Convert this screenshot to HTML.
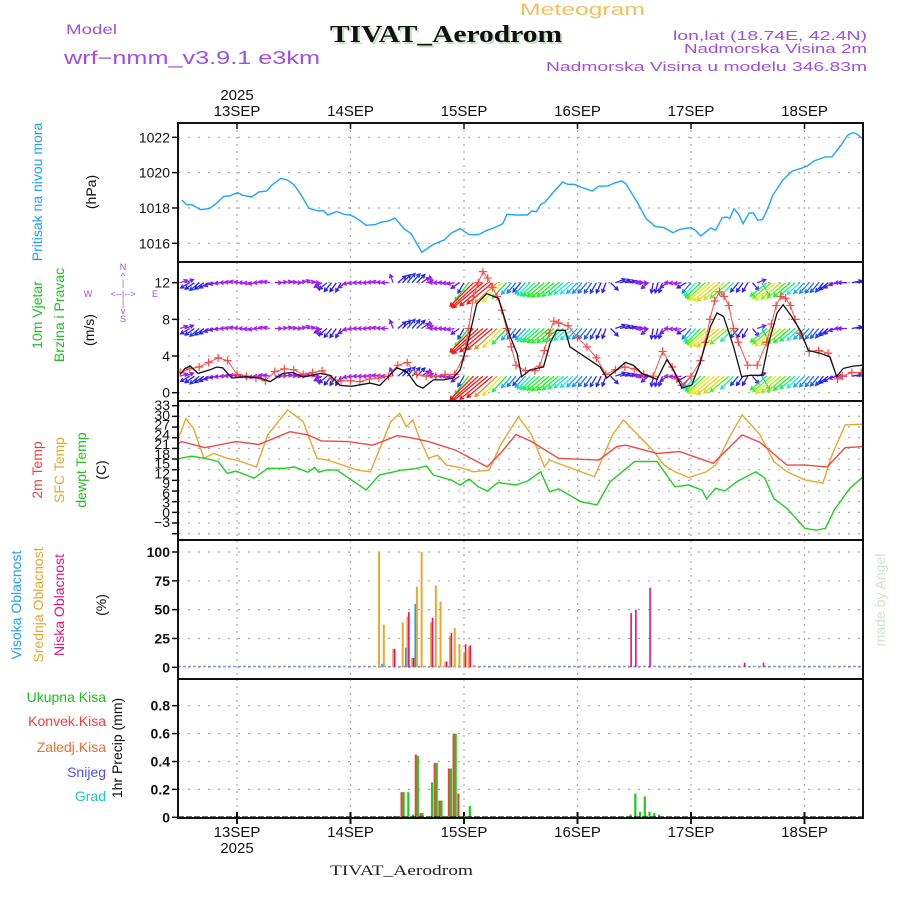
<!DOCTYPE html>
<html><head><meta charset="utf-8">
<style>
html,body{margin:0;padding:0;background:#fff;}
svg{display:block;font-family:"Liberation Sans",sans-serif;}
</style></head>
<body>
<svg id="chart" width="900" height="900" viewBox="0 0 900 900" xmlns="http://www.w3.org/2000/svg">
<defs>
<clipPath id="clipWind"><rect x="178" y="262" width="685" height="139"/></clipPath>
<clipPath id="clipAll"><rect x="178" y="123" width="685" height="695"/></clipPath>
</defs>
<text x="520" y="15" font-size="17" fill="#f0c060" textLength="125" lengthAdjust="spacingAndGlyphs">Meteogram</text>
<text x="66" y="34" font-size="14" fill="#a050e0" textLength="51" lengthAdjust="spacingAndGlyphs">Model</text>
<text x="64" y="64" font-size="18" fill="#a050e0" textLength="256" lengthAdjust="spacingAndGlyphs">wrf−nmm_v3.9.1  e3km</text>
<text x="332" y="44" font-size="24" font-weight="bold" fill="#c8dcc8" font-family="Liberation Serif, serif" textLength="232" lengthAdjust="spacingAndGlyphs">TIVAT_Aerodrom</text>
<text x="330" y="42" font-size="24" font-weight="bold" fill="#111" font-family="Liberation Serif, serif" textLength="232" lengthAdjust="spacingAndGlyphs">TIVAT_Aerodrom</text>
<text x="673" y="40" font-size="13" fill="#a050e0" textLength="194" lengthAdjust="spacingAndGlyphs">lon,lat (18.74E, 42.4N)</text>
<text x="684" y="53" font-size="13" fill="#a050e0" textLength="183" lengthAdjust="spacingAndGlyphs">Nadmorska Visina 2m</text>
<text x="546" y="71" font-size="13" fill="#a050e0" textLength="321" lengthAdjust="spacingAndGlyphs">Nadmorska Visina u modelu 346.83m</text>
<text x="237" y="100" font-size="15" fill="#111" text-anchor="middle">2025</text>
<text x="237" y="853" font-size="15" fill="#111" text-anchor="middle">2025</text>
<text x="330" y="875" font-size="15" fill="#222" font-family="Liberation Serif, serif" textLength="143" lengthAdjust="spacingAndGlyphs">TIVAT_Aerodrom</text>
<text transform="translate(885,600) rotate(-90)" font-size="14" fill="#d0e2d0" text-anchor="middle">made by Angel</text>

<!-- left labels -->
<text transform="translate(42,192) rotate(-90)" font-size="14" fill="#1ea0ff" text-anchor="middle">Pritisak na nivou mora</text>
<text transform="translate(96,192) rotate(-90)" font-size="14" fill="#111" text-anchor="middle">(hPa)</text>
<text transform="translate(42,315) rotate(-90)" font-size="14" fill="#20c020" text-anchor="middle">10m Vjetar</text>
<text transform="translate(64,315) rotate(-90)" font-size="14" fill="#20c020" text-anchor="middle">Brzina i Pravac</text>
<text transform="translate(94,330) rotate(-90)" font-size="14" fill="#111" text-anchor="middle">(m/s)</text>
<g font-size="9" fill="#a050e0" text-anchor="middle">
<text x="123" y="270">N</text><text x="123" y="279">^</text><text x="123" y="286">|</text>
<text x="88" y="297">W</text><text x="123" y="297">&lt;--|--&gt;</text><text x="155" y="297">E</text>
<text x="123" y="306">|</text><text x="123" y="314">v</text><text x="123" y="322">S</text>
</g>
<text transform="translate(42,470) rotate(-90)" font-size="14" fill="#f04040" text-anchor="middle">2m Temp</text>
<text transform="translate(64,470) rotate(-90)" font-size="14" fill="#e8a830" text-anchor="middle">SFC Temp</text>
<text transform="translate(86,470) rotate(-90)" font-size="14" fill="#20c020" text-anchor="middle">dewpt Temp</text>
<text transform="translate(106,470) rotate(-90)" font-size="14" fill="#111" text-anchor="middle">(C)</text>
<text transform="translate(21,605) rotate(-90)" font-size="14" fill="#1ea0ff" text-anchor="middle">Visoka Oblacnost</text>
<text transform="translate(43,605) rotate(-90)" font-size="14" fill="#e8a830" text-anchor="middle">Srednja Oblacnost</text>
<text transform="translate(64,605) rotate(-90)" font-size="14" fill="#e8107a" text-anchor="middle">Niska Oblacnost</text>
<text transform="translate(106,605) rotate(-90)" font-size="14" fill="#111" text-anchor="middle">(%)</text>
<text x="106" y="702" font-size="14" fill="#20c020" text-anchor="end">Ukupna  Kisa</text>
<text x="106" y="726" font-size="14" fill="#f04040" text-anchor="end">Konvek.Kisa</text>
<text x="106" y="752" font-size="14" fill="#f07030" text-anchor="end">Zaledj.Kisa</text>
<text x="106" y="777" font-size="14" fill="#5050f0" text-anchor="end">Snijeg</text>
<text x="106" y="801" font-size="14" fill="#20c8c8" text-anchor="end">Grad</text>
<text transform="translate(122,748) rotate(-90)" font-size="14" fill="#111" text-anchor="middle">1hr Precip (mm)</text>
<g id="plot"></g>
</svg>
<script>
// ---- data (hours from 13SEP 00UTC) ----
const dayLabels = ["13SEP","14SEP","15SEP","16SEP","17SEP","18SEP"];
const dayHours = [0,24,48,72,96,120];

const presHours = [-11.7,-10.6,-9.6,-7.7,-5.9,-4.4,-2.8,-1.6,0.1,1.2,3.1,4.6,6.3,7.4,9.3,10.7,12.1,13.6,15.2,17.3,18.3,19.2,21.1,22.6,24,25.4,27.3,29.2,30.6,32,33.4,35.3,36.8,39.1,41.5,43.9,45.3,47.2,49.1,51,52.9,54.3,56.2,57.1,59,61.4,62.3,63.3,64.2,65.2,67.1,68.9,69.9,71.3,73.2,75.1,76.5,78.4,79.9,81.3,82.2,84.6,86.5,88.4,90.3,92.2,93.6,96,96.9,98.1,100.2,101.2,102.6,103.5,104.2,105.1,106.1,107,108.3,109.2,110.1,111.1,112,113.3,115.4,117.4,119.2,120.6,122,124.4,125.8,127.7,129.1,130.1,131,132.3];
const presVals = [1018.45,1018.17,1018.19,1017.91,1017.96,1018.25,1018.66,1018.68,1018.87,1018.72,1018.62,1018.91,1018.96,1019.3,1019.68,1019.58,1019.3,1018.72,1017.98,1017.83,1017.85,1017.6,1017.8,1017.64,1017.6,1017.4,1017.02,1017.06,1017.2,1017.26,1017.43,1016.83,1016.55,1015.5,1015.94,1016.2,1016.58,1016.83,1016.49,1016.49,1016.74,1016.87,1017.11,1017.64,1017.6,1017.6,1017.83,1017.79,1018.19,1018.34,1018.96,1019.47,1019.34,1019.34,1019.13,1018.96,1019.23,1019.25,1019.42,1019.53,1019.38,1018.34,1017.4,1016.96,1016.89,1016.6,1016.79,1016.89,1016.74,1016.42,1016.87,1016.74,1017.45,1017.49,1017.4,1017.96,1017.62,1017.11,1017.72,1017.72,1017.3,1017.34,1017.83,1018.72,1019.57,1020.09,1020.23,1020.38,1020.66,1020.89,1020.89,1021.55,1022.11,1022.26,1022.21,1021.92];

const speedHours = [-12,-11,-9.9,-8.2,-5.7,-4.3,-3,-1.1,2.1,4.9,7,9.7,11.8,14,17.6,19.7,21.8,24.3,28.1,30.2,33.8,35.9,38,39.3,41.5,43.6,45.7,47.2,48.9,50.7,52.8,55.3,57.7,59.2,60.2,62,64.8,66.2,67.6,69.4,70.4,76.8,78.2,80.3,82.1,83.8,85.6,88.8,90.9,92.3,94.1,96.2,97.9,100.1,101.5,102.9,105,106.7,108.5,111,112.4,114.2,115.5,117.3,119.1,120.8,123.3,125.4,126.8,128.2,130.3,132.3];
const speedVals = [2.0,2.65,2.9,2.1,2.5,2.8,2.7,1.6,1.75,1.6,1.2,2.1,2.2,1.7,2.1,1.9,0.8,0.7,1.05,0.8,2.7,2.3,0.8,0.5,1.4,1.4,1.6,2.5,5.7,9.7,10.8,10.3,6.2,4.3,1.75,2.5,2.8,5.4,6.8,6.8,5.0,2.8,1.6,2.5,3.3,3.0,2.1,1.45,3.6,2.5,0.5,0.85,3.2,7.2,8.7,8.3,5.0,1.75,1.9,1.9,5.4,8.7,9.6,8.3,6.8,4.6,4.3,3.9,1.75,2.65,2.9,3.0];

const gustHours = [-12,-10,-8,-6,-4,-2,0,2,4,6,8,10,12,14,16,18,20,22,24,26,28,30,32,34,36,38,40,42,44,46,48,49,50,51,52,53,54,55,56,57,58,59,61,63,64,65,66,67,68,70,72,74,76,78,80,82,84,86,88,90,92,93,94,96,98,99,100,101,102,103,104,105,106,108,110,112,113,114,115,116,117,118,119,121,123,125,127,128,130,132];
const gustVals = [2.2,2.6,2.8,3.3,3.8,3.5,2.0,1.8,1.6,1.3,2.3,2.6,2.5,2.0,2.2,2.4,1.5,1.3,1.3,1.2,1.5,1.6,1.8,3.0,3.3,2.0,1.8,1.8,2.0,2.0,4.0,7.0,10.5,12.0,13.2,12.5,11.5,10.5,9.0,7.0,5.0,3.0,2.4,2.4,2.9,4.6,6.5,7.8,7.6,7.3,6.0,5.0,3.8,2.0,2.5,2.8,2.6,2.0,1.8,4.5,2.8,1.5,0.8,1.8,3.5,5.5,8.0,10.0,11.0,10.5,9.5,7.0,5.5,3.0,3.0,5.5,7.5,9.5,10.5,10.3,9.5,8.0,6.5,4.5,4.6,4.3,1.5,1.8,2.2,2.2];

const windHours = [-12,-10,-8,-6,-4,-2,0,2,4,6,8,10,12,14,16,18,20,22,24,26,28,30,32,34,36,38,40,42,44,46,48,50,52,54,56,58,60,62,64,66,68,70,72,74,76,78,80,82,84,86,88,90,92,94,96,98,100,102,104,106,108,110,112,114,116,118,120,122,124,126,128,130,132];
const windDir = [250,60,50,60,80,90,100,90,80,100,270,260,270,250,270,60,40,30,80,90,90,100,90,230,220,225,250,90,90,80,30,45,50,50,45,40,40,45,50,50,50,50,45,40,30,20,250,260,270,90,10,20,90,80,40,45,50,50,50,40,30,250,50,50,50,50,45,40,40,60,90,260,260];
const windSpd = [1.5,2.5,3,2.5,2,1.5,1.5,1.5,1.5,1.2,1.3,1.5,1.5,1.3,1.2,2,2.8,2.5,1.5,1.3,1.2,1.2,1.3,2.5,3,2.8,1.5,1.2,1.3,1.5,3,10,12,10,8,4,3,5,6,6.5,6,5,4,3.5,3,2.5,2.5,2.5,2,1.5,2.5,2.5,1.5,1.5,3.5,6,8,8.5,7,3,2.5,2,6,8,7,5.5,4,3.5,3,2.5,1.5,2.5,2.5];
const windRowLevels = [1.8,7,12];

const t2Hours = [-12.5,-11.7,-6.8,-0.2,4.6,11.2,15,17.8,23.5,28.7,33.9,36.7,40.5,46.2,52.9,55.7,59,62.3,68,76.5,80.3,82.2,88.8,93.6,100.7,106.8,110.6,116.3,120.1,124.8,128.6,132.4];
const t2Vals = [22.3,22.9,21.2,22.9,22.1,25.7,24.8,23.1,22.9,21.9,24.6,24,22.9,20.5,15.8,19.6,24.9,22.9,18.2,17.7,21.5,21.9,19.6,20.1,16.8,24.8,22.7,16.3,16.3,15.8,21.2,21.5];
const sfcHours = [-12.5,-12.0,-10.8,-9.2,-7.0,-4.9,-2.1,-0.2,4.1,6.5,10.7,14.0,16.9,19.2,25.4,28.2,32.5,34.4,35.8,37.2,38.6,40.5,42.4,44.3,47.2,50,53.3,55.7,59.5,62.3,65,66.1,68.9,75.6,79.4,81.7,85.1,87.9,90.3,92.6,95.5,99.3,101.2,104,106.8,108.7,110.6,113.5,116.3,120.1,123.9,125.8,128.6,132.4];
const sfcVals = [24.0,25.2,29.4,26.6,18.2,19.6,18.2,17.7,15.8,24.8,31.8,28.5,18.2,17.7,14.9,14.4,28.5,30.8,27.1,29,23.8,18.2,19.1,16.3,15.6,14.4,14.9,21.9,29.9,24.8,15.8,17.7,16.3,13.0,24.8,29,24.3,20.5,16.3,14.4,12.8,14.4,16.3,23.8,30.4,27.6,24.8,17.3,14.4,12.1,11.2,19.1,27.6,27.8];
const dewHours = [-12.5,-12.0,-9.6,-6.8,-4.0,-2.1,-0.2,3.6,6.5,10.2,12.1,15.0,16.4,17.3,18.8,21.1,27.3,30.1,34.9,37.2,40.1,41.5,45.3,47.2,49.1,51,52.9,55.2,59,61.4,64.2,66.1,68,72.7,76.1,78.9,84.1,88.8,92.6,95.5,98.3,99.3,101.2,103.1,105.9,109.7,111.6,113.5,116.3,120.1,122.5,124.4,126.3,129.6,132.4];
const dewVals = [18.0,18.2,18.8,18.2,17.3,14.0,14.6,12.6,15.4,15.4,15.8,14.3,15.6,14.3,14.9,14.9,9.3,13.5,14.9,15.2,16,13.5,12.1,10.7,12.4,10.2,9,11.4,10.7,11.8,14.4,8.8,9.6,6,5.1,11.6,17.3,17.3,10.2,10.7,9.3,6.8,9.8,9.0,11.8,14.4,12.6,6.9,4.1,-1.5,-2,-1.5,3.7,9.8,13];

const cloudHours = [30,31,33,35,36,37,38,39,41,42,43,44,45,46,47,48,49,50,83,84,87,107,111];
const cloudHigh = [0,3,0,0,17,0,55,0,0,0,0,0,0,0,0,0,0,0,0,0,0,0,0];
const cloudMid = [100,37,16,39,44,8,70,100,39,71,57,5,27,34,20,12,18,2,0,0,0,0,0];
const cloudLow = [0,0,16,0,48,8,0,0,43,0,0,5,30,0,0,20,19,0,47,50,69,4,4];

const precipHours = [33,35,36,37,38,39,41,42,43,45,46,47,48,49,83,84,85,86,87,88,89];
const precipTotal = [0.01,0.18,0.18,0.02,0.44,0.03,0.25,0.39,0.12,0.35,0.6,0,0.01,0.08,0.02,0.17,0.04,0.15,0.04,0.03,0.02];
const precipConv = [0,0.18,0,0,0.45,0.03,0,0.39,0.12,0.35,0.6,0.17,0,0,0,0,0,0,0,0,0];

const presTicks = [1016,1018,1020,1022];
const windTicks = [0,4,8,12];
const tempTicks = [33,30,27,24,21,18,15,12,9,6,3,0,-3];
const cloudTicks = [0,25,50,75,100];
const precipTicks = [0,0.2,0.4,0.6,0.8];

// ---- scales ----
const L = 178, R = 863;
const X = h => 237 + h * 113.5 / 24;
const yPres = p => 137.3 + (1022 - p) * 17.67;
const yWind = v => 392.7 - v * 9.17;
const yTemp = t => 405.7 + (33 - t) * 3.556;
const yCloud = c => 667.3 - c * 1.153;
const yPrecip = p => 817.3 - p * 139.5;
const panels = [[123,262],[262,401],[401,540],[540,679],[679,818]];

const NS = "http://www.w3.org/2000/svg";
const plot = document.getElementById("plot");
function mk(tag, attrs, parent) {
  const e = document.createElementNS(NS, tag);
  for (const k in attrs) e.setAttribute(k, attrs[k]);
  (parent || plot).appendChild(e);
  return e;
}
function path(hs, vs, yf) {
  return hs.map((h, i) => (i ? "L" : "M") + X(h).toFixed(1) + "," + yf(vs[i]).toFixed(1)).join("");
}

// grid
const grid = mk("g", {});


panels.forEach(p => {
  dayHours.forEach(h => {
    const gl = mk("line", {x1: X(h), x2: X(h), y1: p[0], y2: p[1], stroke: "#aaa", "stroke-dasharray": "2,5", "stroke-width": 1.2}, grid);
    
    
  });
});
function hgrid(ticks, yf) {
  ticks.forEach(t => {
    const y = yf(t);
    const gl = mk("line", {x1: L, x2: R, y1: y, y2: y, stroke: "#aaa", "stroke-dasharray": "2,8", "stroke-width": 1.2}, grid);
    
    
  });
}
hgrid(presTicks, yPres);
hgrid(windTicks, yWind);
hgrid(tempTicks, yTemp);
hgrid(cloudTicks, yCloud);
hgrid(precipTicks.slice(1), yPrecip);

// tick labels
function yLabels(ticks, yf, name, bold, posf) {
  ticks.forEach((t, i) => {
    const y = posf ? posf(i) : yf(t);
    const tk = mk("line", {x1: 172, x2: 178, y1: yf(t), y2: yf(t), stroke: "#111", "stroke-width": 1.5});
    
    
    const tx = mk("text", {x: 170, y: y + 5, "text-anchor": "end", "font-size": 14, fill: "#111", "font-weight": bold ? "bold" : "normal"});
    tx.textContent = String(t).replace("-", "−");
    
    
  });
}
yLabels(presTicks, yPres, "pressure-axis", false);
yLabels(windTicks, yWind, "wind-axis", false);
yLabels(tempTicks, yTemp, "temp-axis", false, i => 405 + i * 9.75);
yLabels(cloudTicks, yCloud, "cloud-axis", true);
yLabels(precipTicks, yPrecip, "precip-axis", true);

// date labels
dayLabels.forEach((d, i) => {
  const x = X(dayHours[i]);
  const t1 = mk("text", {x: x, y: 116, "text-anchor": "middle", "font-size": 15, fill: "#111"});
  t1.textContent = d;
  
  
  const t2 = mk("text", {x: x, y: 837, "text-anchor": "middle", "font-size": 15, fill: "#111"});
  t2.textContent = d;
  
  
  const k1 = mk("line", {x1: x, x2: x, y1: 123, y2: 129, stroke: "#111", "stroke-width": 1.5});
  
  
  const k2 = mk("line", {x1: x, x2: x, y1: 812, y2: 824, stroke: "#111", "stroke-width": 2});
  
  
});

// pressure
const pl = mk("path", {d: path(presHours, presVals, yPres), fill: "none", stroke: "#1ea6ff", "stroke-width": 1.4});



// wind arrows
const wg = mk("g", {"clip-path": "url(#clipWind)"});


function windColor(v) {
  const hue = Math.max(0, Math.min(280, 330 - 33 * v));
  return "hsl(" + hue + ",85%,52%)";
}
function arrow(x, y, dx, dy, spd) {
  const len = 3 + 3 * spd;
  const x2 = x + dx * len, y2 = y + dy * len;
  const hx = -dx * 4, hy = -dy * 4;
  const c = Math.cos(0.5), s = Math.sin(0.5);
  const d = "M" + x.toFixed(1) + "," + y.toFixed(1) + "L" + x2.toFixed(1) + "," + y2.toFixed(1) +
    "M" + (x2 + hx * c - hy * s).toFixed(1) + "," + (y2 + hx * s + hy * c).toFixed(1) + "L" + x2.toFixed(1) + "," + y2.toFixed(1) +
    "L" + (x2 + hx * c + hy * s).toFixed(1) + "," + (y2 - hx * s + hy * c).toFixed(1);
  const ar = mk("path", {d: d, stroke: windColor(spd), "stroke-width": 1.3, fill: "none"}, wg);
  
  
}
function vec(dir) {
  const a = dir * Math.PI / 180;
  return [-Math.sin(a), Math.cos(a)];
}
windRowLevels.forEach(lvl => {
  const y = yWind(lvl);
  windHours.forEach((h, i) => {
    const v = vec(windDir[i]);
    arrow(X(h), y, v[0], v[1], windSpd[i]);
    if (i < windHours.length - 1) {
      const w = vec(windDir[i + 1]);
      let mx = v[0] + w[0], my = v[1] + w[1];
      const n = Math.hypot(mx, my);
      if (n < 0.2) { mx = v[0]; my = v[1]; } else { mx /= n; my /= n; }
      arrow(X(h + 1), y, mx, my, (windSpd[i] + windSpd[i + 1]) / 2);
    }
  });
});

// gust crosses + line
const gl2 = mk("path", {d: path(gustHours, gustVals, yWind), fill: "none", stroke: "#ff5050", "stroke-width": 1, "clip-path": "url(#clipWind)"});


gustHours.forEach((h, i) => {
  const x = X(h), y = yWind(gustVals[i]);
  const cr = mk("path", {d: "M" + (x - 4) + "," + y + "H" + (x + 4) + "M" + x + "," + (y - 4) + "V" + (y + 4), stroke: "#ff4848", "stroke-width": 1.2, "clip-path": "url(#clipWind)"});
  
  
});
const sl = mk("path", {d: path(speedHours, speedVals, yWind), fill: "none", stroke: "#111", "stroke-width": 1.3, "clip-path": "url(#clipWind)"});



// temperatures
const tc = mk("g", {"clip-path": "url(#clipAll)"});


const sfc = mk("path", {d: path(sfcHours, sfcVals, yTemp), fill: "none", stroke: "#e8a830", "stroke-width": 1.4}, tc);


const t2 = mk("path", {d: path(t2Hours, t2Vals, yTemp), fill: "none", stroke: "#f04848", "stroke-width": 1.4}, tc);


const dw = mk("path", {d: path(dewHours, dewVals, yTemp), fill: "none", stroke: "#20d020", "stroke-width": 1.4}, tc);



// clouds
const cb = mk("line", {x1: L, x2: R, y1: 666.5, y2: 666.5, stroke: "#8899dd", "stroke-width": 1.5, "stroke-dasharray": "3,2"});


cloudHours.forEach((h, i) => {
  const x = X(h);
  [[cloudMid[i], -0.8, 2, "#e8a830", "mid-cloud-bar"], [cloudHigh[i], -2.3, 1.6, "#1ea0ff", "high-cloud-bar"], [cloudLow[i], 0.8, 1.6, "#e8107a", "low-cloud-bar"]].forEach(b => {
    if (b[0] <= 0) return;
    const r = mk("rect", {x: x + b[1], y: yCloud(b[0]), width: b[2], height: yCloud(0) - yCloud(b[0]), fill: b[3]});
    
    
  });
});

// precipitation
precipHours.forEach((h, i) => {
  const x = X(h);
  if (precipConv[i] > 0) {
    const r = mk("rect", {x: x - 2, y: yPrecip(precipConv[i]), width: 2.2, height: yPrecip(0) - yPrecip(precipConv[i]), fill: "#f04040"});
    
    
  }
  if (precipTotal[i] > 0) {
    const r = mk("rect", {x: x, y: yPrecip(precipTotal[i]), width: 2.2, height: yPrecip(0) - yPrecip(precipTotal[i]), fill: "#20c820"});
    
    
  }
});
const pz = mk("line", {x1: L, x2: R, y1: 817.5, y2: 817.5, stroke: "#111", "stroke-width": 2.2, "stroke-dasharray": "6,2"});



// panel frames
panels.forEach((p, i) => {
  const fr = mk("rect", {x: L, y: p[0], width: R - L, height: p[1] - p[0], fill: "none", stroke: "#111", "stroke-width": 2});
  
  
});
</script>
</body></html>
